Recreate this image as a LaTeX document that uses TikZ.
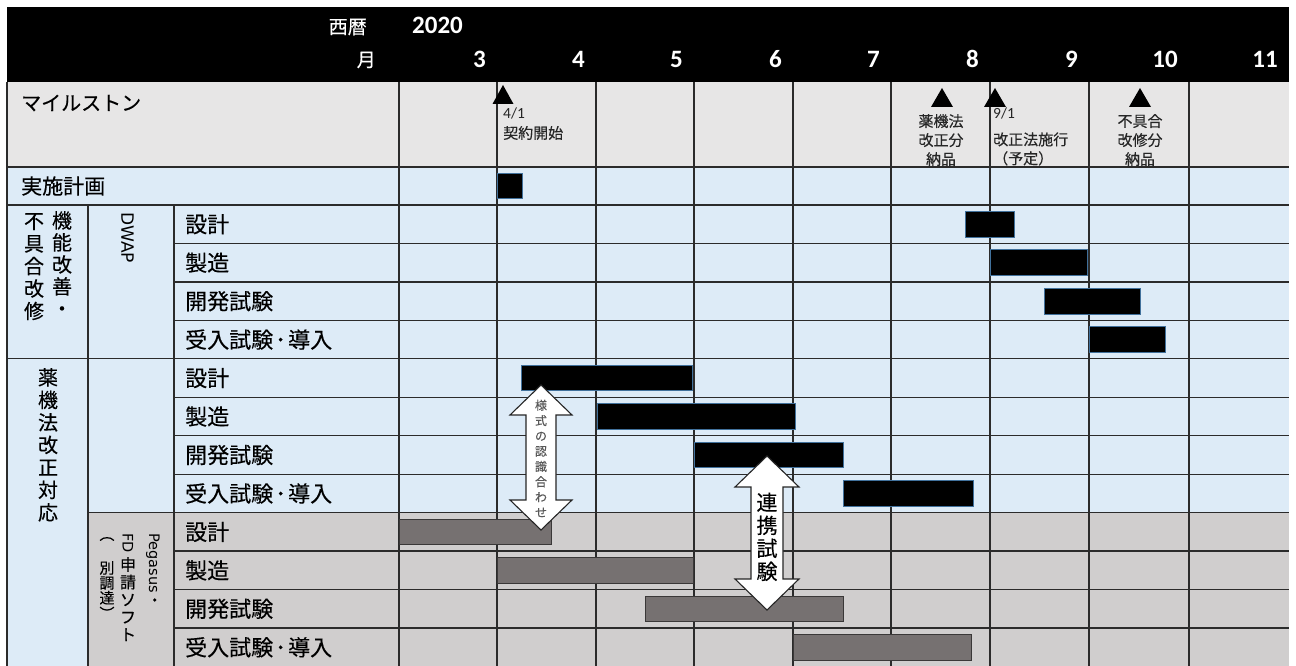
\documentclass[tikz,border=0pt]{standalone}
\usepackage{fontspec}
\setmainfont{Noto Sans CJK JP}[FakeBold=0.35]
\newfontfamily\calfont{Carlito}
\newfontfamily\dvfont{DejaVu Sans}
\definecolor{msbg}{HTML}{E7E6E6}
\definecolor{bluebg}{HTML}{DDEBF7}
\definecolor{graybg}{HTML}{D0CECE}
\definecolor{graybar}{HTML}{767171}
\definecolor{gridc}{HTML}{2B2B2B}
\definecolor{barborder}{HTML}{41719C}
\definecolor{gbarborder}{HTML}{3A3838}
\definecolor{notegray}{HTML}{595959}
\newcommand{\hdot}{\hspace{2pt}･\hspace{2pt}}
\begin{document}
\begin{tikzpicture}[x=1pt,y=-1pt,
  gridline/.style={draw=gridc, line width=1.3pt},
  bbar/.style={fill=black, draw=barborder, line width=1pt},
  gbar/.style={fill=graybar, draw=gbarborder, line width=1pt},
  taskname/.style={anchor=west, inner sep=0pt, font=\fontsize{22}{25}\selectfont},
  monthlbl/.style={anchor=base east, inner sep=0pt, text=white, font=\calfont\bfseries\fontsize{25}{30}\selectfont},
  hdrcjk/.style={anchor=east, inner sep=0pt, text=white, font=\fontsize{19}{22}\selectfont},
  msmark/.style={fill=black},
  mslabel/.style={inner sep=0pt, font=\fontsize{15}{19}\selectfont, text=black!85},
  msdate/.style={inner sep=0pt, font=\calfont\fontsize{15.5}{18}\selectfont, text=black!85},
  vstack/.style={align=center, inner sep=0pt, anchor=north},
  dbl/.style={fill=white, draw=black!85, line width=1.1pt, line join=miter},
]
\useasboundingbox (0,0) rectangle (1296,666);
\fill[white] (0,0) rectangle (1296,666);
% ---------- backgrounds ----------
\fill[black] (7,7) rectangle (1289,82);
\fill[msbg] (7,82) rectangle (1289,167);
\fill[bluebg] (7,167) rectangle (1289,512.7);
\fill[bluebg] (7,512.7) rectangle (88,667);
\fill[graybg] (88,512.7) rectangle (1289,667);
% ---------- grid ----------
\foreach \xx in {399,497,596,694,793,891,990,1089,1189}
  \draw[gridline] (\xx,82) -- (\xx,667);
\draw[gridline] (7,82) -- (7,667);
\draw[gridline] (88,205) -- (88,667);
\draw[gridline] (174,205) -- (174,667);
\draw[gridline] (7,167) -- (1289,167);
\draw[gridline] (7,205) -- (1289,205);
\foreach \yy in {243.5,281.9,320.4,397.3,435.8,474.2,551.1,589.6,628.1}
  \draw[gridline] (174,\yy) -- (1289,\yy);
\draw[gridline] (7,358.8) -- (1289,358.8);
\draw[gridline] (88,512.7) -- (1289,512.7);
% ---------- bars ----------
\foreach \xa/\xb/\yc in {497/522/186, 965/1014/224.2, 990/1087/262.7, 1044/1140/301.2, 1089/1165/339.6,
  521/692/378.1, 597/795/416.5, 694/843/455, 843/973/493.5}
  \draw[bbar] (\xa,\yc-12.8) rectangle (\xb,\yc+12.8);
\foreach \xa/\xb/\yc in {399/551/531.9, 497/693/570.4, 645/843/608.8, 793/971/647.3}
  \draw[gbar] (\xa,\yc-12.8) rectangle (\xb,\yc+12.8);
% ---------- milestone marks ----------
\fill[msmark] (503,85) -- (513.5,104) -- (492.5,104) -- cycle;
\fill[msmark] (942,88) -- (953,107) -- (931,107) -- cycle;
\fill[msmark] (995,88) -- (1006,107) -- (984,107) -- cycle;
\fill[msmark] (1140,88) -- (1151,107) -- (1129,107) -- cycle;
% ---------- double arrows ----------
\draw[dbl] (541,385) -- (572,415) -- (556,415) -- (556,500) -- (572,500) -- (541,530)
  -- (510,500) -- (526,500) -- (526,415) -- (510,415) -- cycle;
\draw[dbl] (767,456) -- (799,487) -- (783,487) -- (783,579) -- (799,579) -- (767,610)
  -- (735,579) -- (751,579) -- (751,487) -- (735,487) -- cycle;
\node[vstack, text=notegray, font=\fontsize{12}{15.3}\selectfont] (yoshiki) at (541,399.5)
  {様\\式\\の\\認\\識\\合\\わ\\せ};
\node[vstack, font=\fontsize{21}{23}\selectfont] (renkei) at (767,492.5) {連\\携\\試\\験};
% ---------- header ----------
\node[hdrcjk] (seireki) at (367,27) {西暦};
\node[anchor=base west, inner sep=0pt, text=white, font=\calfont\bfseries\fontsize{25}{30}\selectfont] (year) at (412,34) {2020};
\node[hdrcjk] (tsuki) at (376,60) {月};
\foreach \xe/\m in {497/3,596/4,694/5,793/6,891/7,990/8,1089/9,1189/10,1289/11}
  \node[monthlbl] (m\m) at (\xe-11,68) {\m};
% ---------- milestone row ----------
\node[anchor=west, inner sep=0pt, font=\fontsize{20}{24}\selectfont] (milestone) at (21,103) {マイルストン};
\node[msdate, anchor=west] (d41) at (503,113) {4/1};
\node[mslabel, anchor=west] (keiyaku) at (503,133) {契約開始};
\node[mslabel, align=center, anchor=north] (yakki) at (941,114) {薬機法\\改正分\\納品};
\node[msdate, anchor=west] (d91) at (993,113) {9/1};
\node[mslabel, anchor=west, align=left] (sekou) at (993,149) {改正法施行\\（予定）};
\node[mslabel, align=center, anchor=north] (fuguai) at (1140,114) {不具合\\改修分\\納品};
% ---------- left labels ----------
\node[anchor=west, inner sep=0pt, font=\fontsize{21}{24}\selectfont] (jisshi) at (21,186) {実施計画};
\node[vstack, font=\fontsize{20}{22}\selectfont] (kaizen) at (62,211) {機\\能\\改\\善\\・};
\node[vstack, font=\fontsize{20}{22.5}\selectfont] (kaishu) at (34,213) {不\\具\\合\\改\\修};
\node[vstack, font=\fontsize{20}{22.5}\selectfont] (yakkihou) at (48,368) {薬\\機\\法\\改\\正\\対\\応};
\node[rotate=-90, anchor=west, inner sep=0pt, font=\dvfont\fontsize{17}{20}\selectfont] (dwap) at (127.5,212) {DWAP};
\node[rotate=-90, anchor=west, inner sep=0pt, font=\fontsize{14.5}{16}\selectfont] (pegasus) at (153,533) {{\dvfont Pegasus}・};
\node[rotate=-90, anchor=west, inner sep=0pt, font=\dvfont\fontsize{14.5}{16}\selectfont] (fd) at (128,533) {FD};
\node[vstack, font=\fontsize{16}{17.5}\selectfont] (shinsei) at (128,557) {申\\請\\ソ\\フ\\ト};
\node[inner sep=0pt, font=\fontsize{15}{17}\selectfont] (lparen) at (107,539) {︵};
\node[vstack, font=\fontsize{15}{15}\selectfont] (betsu) at (107,561) {別\\調\\達};
\node[inner sep=0pt, font=\fontsize{15}{17}\selectfont] (rparen) at (107,613) {︶};
% task names
\foreach \yc/\t [count=\i] in {224.2/設計, 262.7/製造, 301.2/開発試験, 339.6/受入試験\hdot 導入,
  378.1/設計, 416.5/製造, 455/開発試験, 493.5/受入試験\hdot 導入,
  531.9/設計, 570.4/製造, 608.8/開発試験, 647.3/受入試験\hdot 導入}
  \node[taskname] (task\i) at (185,\yc) {\t};
\end{tikzpicture}
\end{document}
